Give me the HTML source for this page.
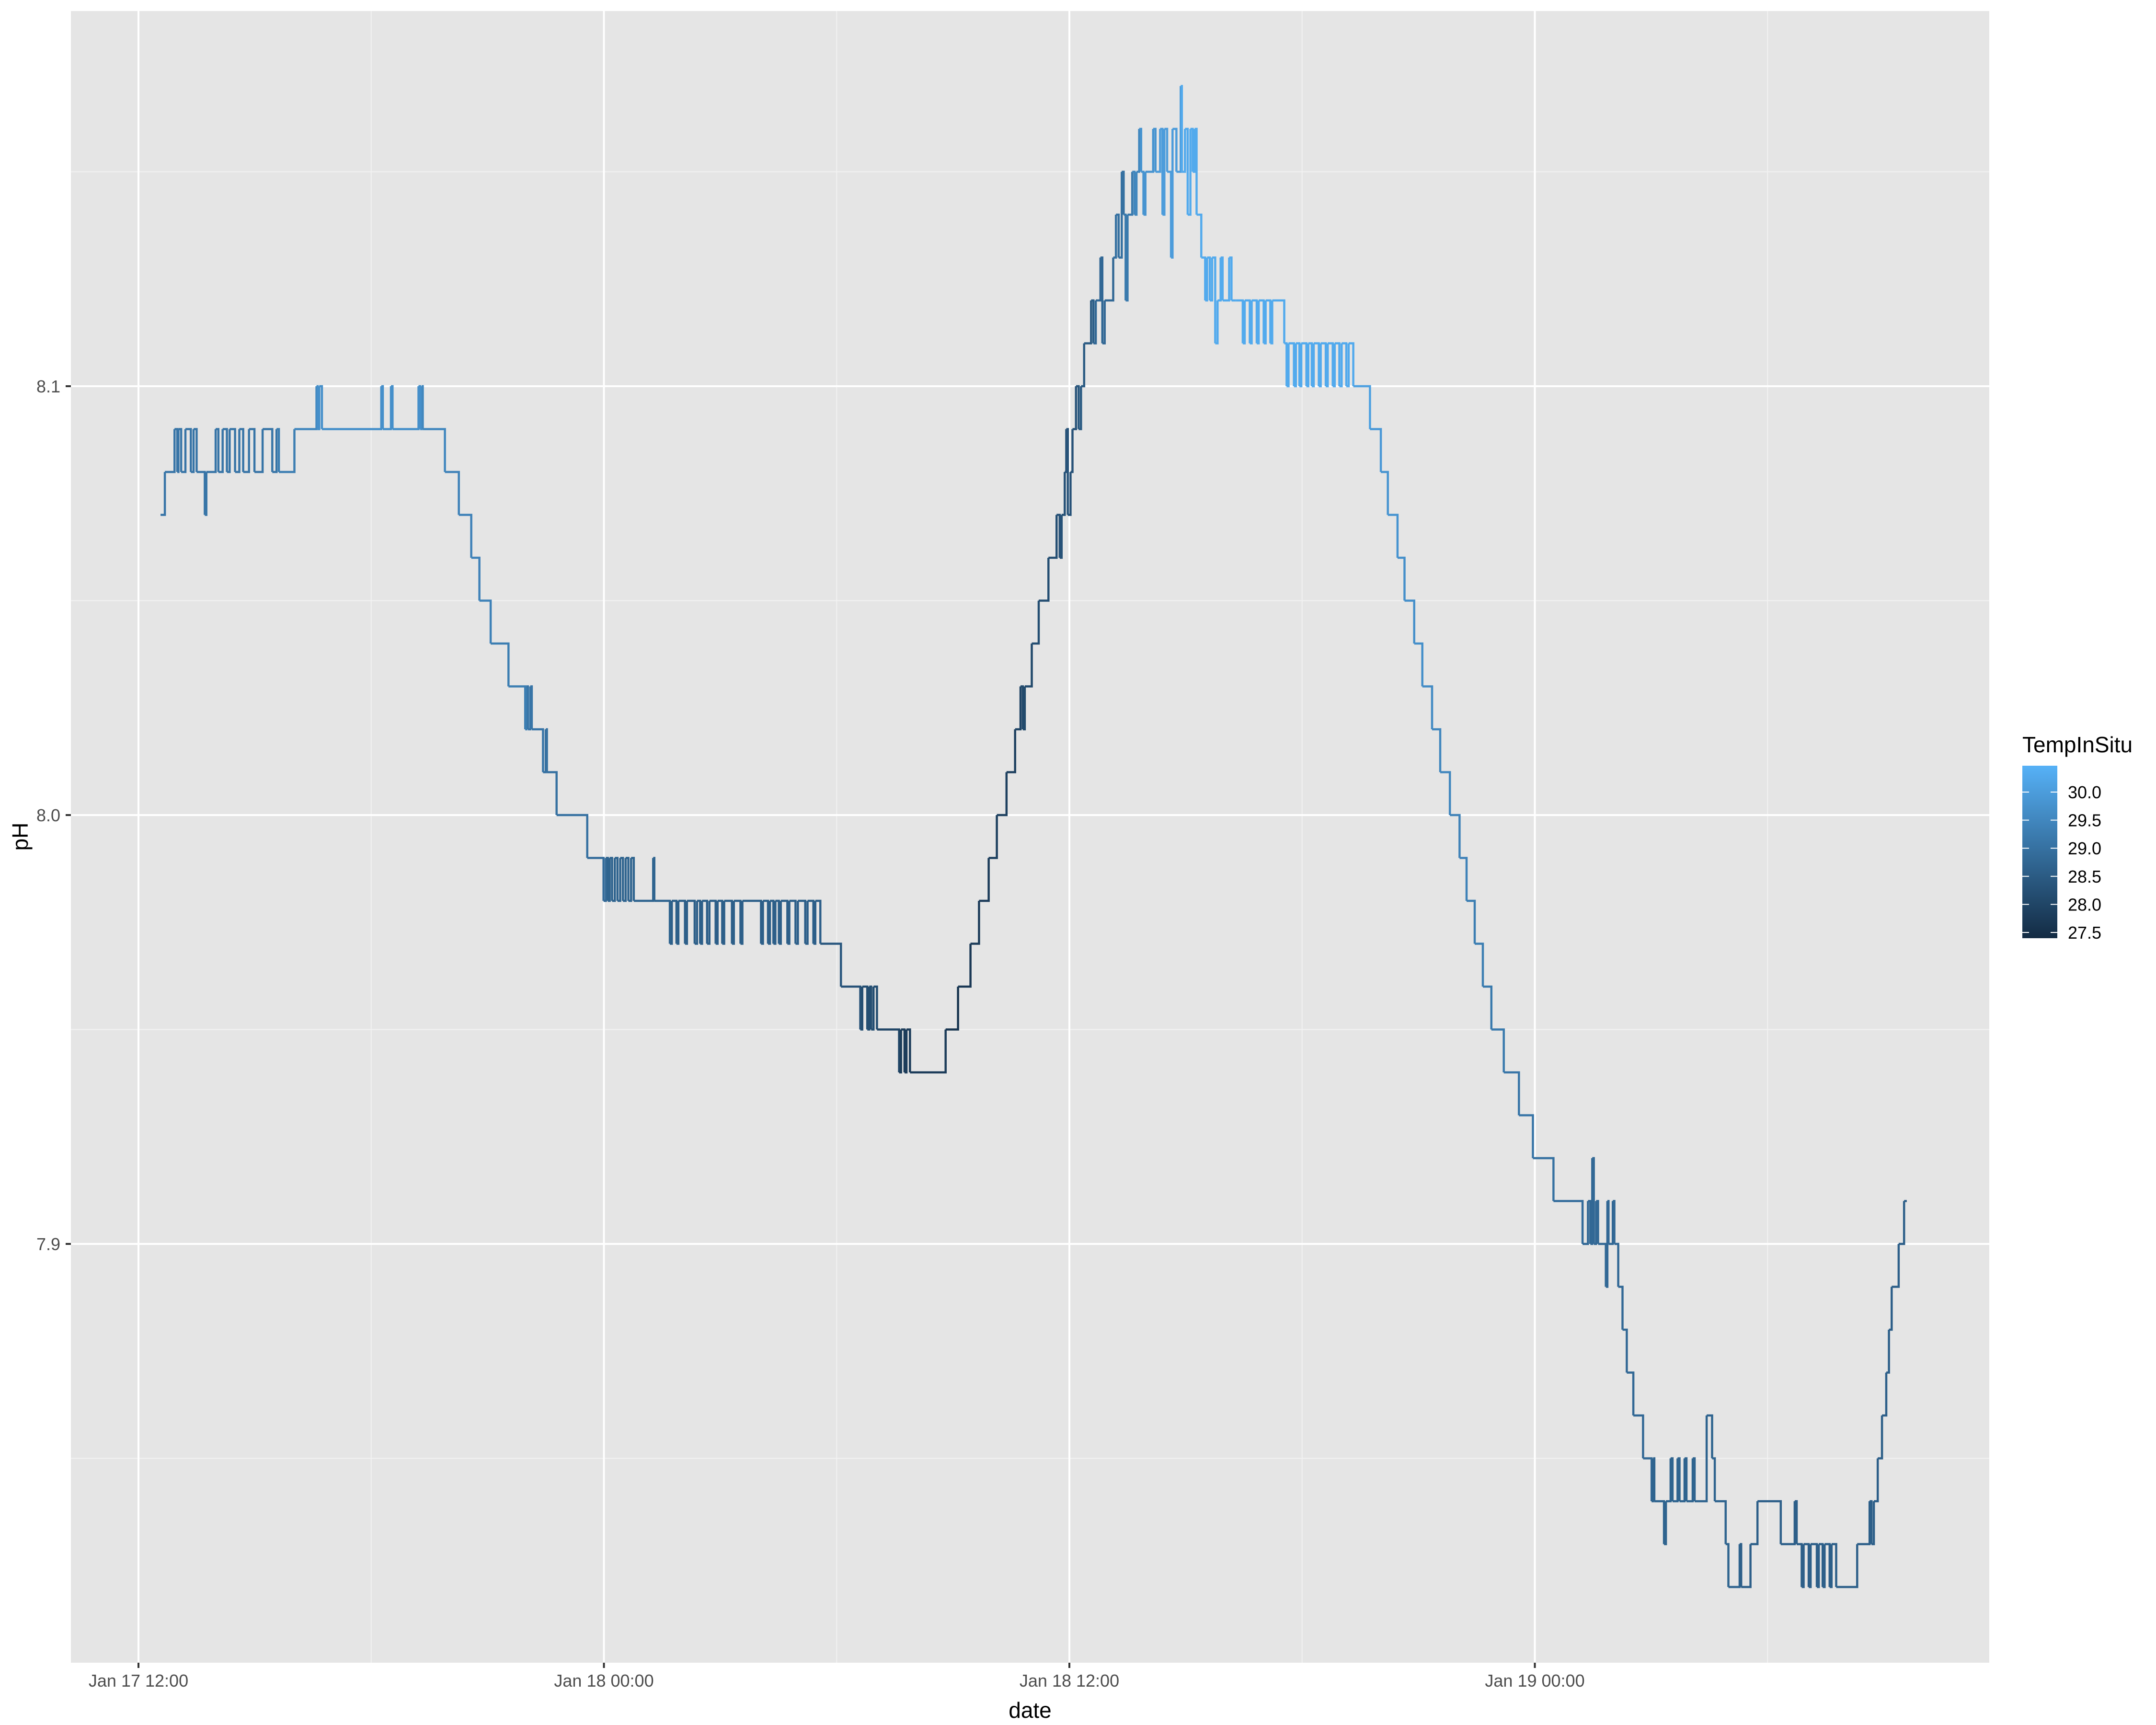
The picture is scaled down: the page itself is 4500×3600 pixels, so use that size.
<!DOCTYPE html>
<html><head><meta charset="utf-8"><style>
html,body{margin:0;padding:0;background:#fff;}
svg{display:block;font-family:"Liberation Sans",Arial,sans-serif;}
</style></head><body>
<svg id="chart" width="4500" height="3600" viewBox="0 0 4500 3600" xmlns="http://www.w3.org/2000/svg">
<rect x="0" y="0" width="4500" height="3600" fill="#ffffff"/>
<rect x="148" y="23" width="4004" height="3447" fill="#e5e5e5"/>
<g id="grid"></g>
<g id="series"></g>
<g id="axes"></g>
<text x="2150" y="3585" font-size="46" text-anchor="middle" fill="#000">date</text>
<text x="0" y="0" font-size="46" text-anchor="middle" fill="#000" transform="translate(58,1746) rotate(-90)">pH</text>
<g>
<text x="4221" y="1570" font-size="46" fill="#000">TempInSitu</text>
<defs><linearGradient id="lg" x1="0" y1="1" x2="0" y2="0"><stop offset="0" stop-color="#132B43"/><stop offset="1" stop-color="#56B1F7"/></linearGradient></defs>
<rect x="4221" y="1598" width="73" height="360" fill="url(#lg)"/>
<g id="legendTicks"></g>
</g>
</svg>
<script>
// Data: time in hours since Jan 17 00:00
const times = [12.57,12.68,12.93,13.00,13.03,13.10,13.21,13.35,13.42,13.50,13.71,13.75,13.99,14.06,14.17,14.28,14.35,14.49,14.60,14.70,14.85,14.99,15.20,15.45,15.56,15.62,16.02,16.59,16.62,16.66,16.73,18.26,18.30,18.51,18.55,19.22,19.26,19.30,19.33,19.90,20.26,20.58,20.79,21.08,21.54,21.97,22.00,22.04,22.10,22.14,22.43,22.50,22.53,22.78,23.57,23.99,24.05,24.10,24.15,24.21,24.28,24.35,24.42,24.49,24.56,24.63,24.70,24.77,25.27,25.30,25.70,25.75,25.87,25.92,26.09,26.14,26.34,26.40,26.48,26.53,26.66,26.72,26.88,26.93,27.05,27.10,27.30,27.35,27.52,27.57,28.05,28.10,28.23,28.28,28.37,28.42,28.51,28.56,28.73,28.78,28.94,29.00,29.19,29.25,29.40,29.45,29.58,30.11,30.61,30.66,30.79,30.84,30.89,30.95,31.04,31.61,31.66,31.75,31.80,31.89,32.81,33.13,33.45,33.67,33.92,34.13,34.38,34.60,34.74,34.80,34.85,35.03,35.21,35.46,35.67,35.75,35.80,35.88,35.92,35.96,36.03,36.08,36.17,36.24,36.30,36.38,36.56,36.62,36.68,36.73,36.80,36.85,36.91,37.13,37.20,37.27,37.35,37.40,37.45,37.50,37.62,37.68,37.73,37.80,37.85,37.91,37.96,38.16,38.22,38.34,38.40,38.45,38.52,38.62,38.66,38.76,38.87,38.90,38.98,39.05,39.12,39.18,39.23,39.28,39.33,39.40,39.50,39.55,39.62,39.68,39.76,39.82,39.90,39.95,40.12,40.18,40.29,40.47,40.52,40.65,40.70,40.83,40.88,41.01,41.06,41.18,41.23,41.54,41.60,41.65,41.79,41.84,41.93,41.98,42.11,42.16,42.25,42.30,42.43,42.48,42.61,42.66,42.79,42.84,42.96,43.02,43.14,43.20,43.32,43.75,44.03,44.21,44.46,44.64,44.89,45.10,45.35,45.56,45.81,46.06,46.24,46.45,46.66,46.88,47.20,47.59,47.95,48.48,49.23,49.37,49.43,49.48,49.52,49.58,49.63,49.83,49.87,49.90,50.01,50.05,50.15,50.26,50.37,50.54,50.79,51.01,51.05,51.08,51.33,51.38,51.50,51.55,51.68,51.73,51.86,51.91,52.07,52.12,52.43,52.57,52.64,52.92,52.99,53.28,53.32,53.56,53.74,54.34,54.70,54.75,54.88,54.93,55.06,55.11,55.27,55.32,55.42,55.47,55.60,55.65,55.77,56.31,56.63,56.68,56.74,56.84,56.95,57.06,57.13,57.20,57.38,57.52,57.59];
const phValues = [8.07,8.08,8.09,8.08,8.09,8.08,8.09,8.08,8.09,8.08,8.07,8.08,8.09,8.08,8.09,8.08,8.09,8.08,8.09,8.08,8.09,8.08,8.09,8.08,8.09,8.08,8.09,8.10,8.09,8.10,8.09,8.10,8.09,8.10,8.09,8.10,8.09,8.10,8.09,8.08,8.07,8.06,8.05,8.04,8.03,8.02,8.03,8.02,8.03,8.02,8.01,8.02,8.01,8.00,7.99,7.98,7.99,7.98,7.99,7.98,7.99,7.98,7.99,7.98,7.99,7.98,7.99,7.98,7.99,7.98,7.97,7.98,7.97,7.98,7.97,7.98,7.97,7.98,7.97,7.98,7.97,7.98,7.97,7.98,7.97,7.98,7.97,7.98,7.97,7.98,7.97,7.98,7.97,7.98,7.97,7.98,7.97,7.98,7.97,7.98,7.97,7.98,7.97,7.98,7.97,7.98,7.97,7.96,7.95,7.96,7.95,7.96,7.95,7.96,7.95,7.94,7.95,7.94,7.95,7.94,7.95,7.96,7.97,7.98,7.99,8.00,8.01,8.02,8.03,8.02,8.03,8.04,8.05,8.06,8.07,8.06,8.07,8.08,8.09,8.07,8.08,8.09,8.10,8.09,8.10,8.11,8.12,8.11,8.12,8.12,8.13,8.11,8.12,8.13,8.14,8.13,8.15,8.14,8.12,8.14,8.15,8.14,8.15,8.16,8.15,8.14,8.15,8.16,8.15,8.16,8.14,8.16,8.15,8.13,8.16,8.15,8.17,8.15,8.16,8.14,8.16,8.15,8.16,8.14,8.14,8.13,8.12,8.13,8.12,8.13,8.11,8.12,8.13,8.12,8.13,8.12,8.12,8.11,8.12,8.11,8.12,8.11,8.12,8.11,8.12,8.11,8.12,8.11,8.10,8.11,8.10,8.11,8.10,8.11,8.10,8.11,8.10,8.11,8.10,8.11,8.10,8.11,8.10,8.11,8.10,8.11,8.10,8.11,8.10,8.09,8.08,8.07,8.06,8.05,8.04,8.03,8.02,8.01,8.00,7.99,7.98,7.97,7.96,7.95,7.94,7.93,7.92,7.91,7.90,7.91,7.90,7.92,7.90,7.91,7.90,7.89,7.91,7.90,7.91,7.90,7.89,7.88,7.87,7.86,7.85,7.84,7.85,7.84,7.83,7.84,7.85,7.84,7.85,7.84,7.85,7.84,7.85,7.84,7.86,7.85,7.84,7.83,7.82,7.83,7.82,7.83,7.84,7.83,7.84,7.83,7.82,7.83,7.82,7.83,7.82,7.83,7.82,7.83,7.82,7.83,7.82,7.83,7.84,7.83,7.84,7.85,7.86,7.87,7.88,7.89,7.90,7.91,7.91];
const tempTimes = [12.5,15.5,16.0,16.5,19.3,19.9,20.8,22.0,22.4,22.8,23.6,24.0,25.7,29.5,30.1,30.6,31.0,31.6,31.9,33.1,33.4,33.9,34.4,34.7,35.0,35.5,36.1,36.2,36.4,36.6,37.1,37.4,37.6,37.8,38.2,38.8,43.3,43.7,44.0,44.4,44.9,45.3,45.8,46.2,46.6,47.2,47.9,48.4,49.2,50.8,53.0];
const tempValues = [29.1,29.3,29.5,29.7,29.5,29.4,29.3,29.1,29.0,28.9,28.8,28.7,28.6,28.4,28.3,28.2,28.0,27.8,27.6,27.7,27.8,27.9,28.0,28.1,28.2,28.3,28.4,28.5,28.6,28.8,29.0,29.2,29.5,29.8,30.0,30.3,30.1,29.9,29.8,29.7,29.6,29.5,29.4,29.3,29.2,29.1,29.0,28.9,28.8,28.7,28.6];
const yTicks = [7.9, 8.0, 8.1];
const yTickLabels = ["7.9", "8.0", "8.1"];
const xTicks = [12, 24, 36, 48];
const xTickLabels = ["Jan 17 12:00", "Jan 18 00:00", "Jan 18 12:00", "Jan 19 00:00"];
const legendTicks = [27.5, 28.0, 28.5, 29.0, 29.5, 30.0];
const legendLabels = ["27.5", "28.0", "28.5", "29.0", "29.5", "30.0"];

const NS = "http://www.w3.org/2000/svg";
const PL = 148, PR = 4152, PT = 23, PB = 3470;
const xScale = h => 289 + (h - 12) * (971.5 / 12);
const yScale = p => 806 + (8.1 - p) * 8950;
const tMin = 27.40, tMax = 30.47;
const lowC = [0x13, 0x2B, 0x43], highC = [0x56, 0xB1, 0xF7];
function tempColor(t) {
  let f = (t - tMin) / (tMax - tMin); f = Math.max(0, Math.min(1, f));
  const c = lowC.map((v, i) => Math.round(v + (highC[i] - v) * f));
  return "rgb(" + c.join(",") + ")";
}
function tempAt(h) {
  let v = tempValues[0];
  for (let i = 0; i < tempTimes.length; i++) { if (tempTimes[i] <= h) v = tempValues[i]; }
  return v;
}
function mk(tag, attrs, parent) {
  const e = document.createElementNS(NS, tag);
  for (const k in attrs) e.setAttribute(k, attrs[k]);
  parent.appendChild(e); return e;
}
const grid = document.getElementById("grid");
// minor horizontal
[7.85, 7.95, 8.05, 8.15].forEach(v => {
  const l = mk("line", {x1: PL, x2: PR, y1: yScale(v), y2: yScale(v), stroke: "#f2f2f2", "stroke-width": 2}, grid);
  
  
});
[18, 30, 42, 54].forEach(v => {
  const l = mk("line", {y1: PT, y2: PB, x1: xScale(v), x2: xScale(v), stroke: "#f2f2f2", "stroke-width": 2}, grid);
  
  
});
yTicks.forEach(v => {
  const l = mk("line", {x1: PL, x2: PR, y1: yScale(v), y2: yScale(v), stroke: "#ffffff", "stroke-width": 4}, grid);
  
  
});
xTicks.forEach(v => {
  const l = mk("line", {y1: PT, y2: PB, x1: xScale(v), x2: xScale(v), stroke: "#ffffff", "stroke-width": 4}, grid);
  
  
});
// series
const series = document.getElementById("series");
for (let i = 0; i < times.length - 1; i++) {
  const x0 = xScale(times[i]), x1 = xScale(times[i + 1]);
  const y0 = yScale(phValues[i]), y1 = yScale(phValues[i + 1]);
  const p = mk("path", {d: "M" + x0.toFixed(1) + "," + y0.toFixed(1) + "L" + x1.toFixed(1) + "," + y0.toFixed(1) + "L" + x1.toFixed(1) + "," + y1.toFixed(1),
    fill: "none", stroke: tempColor(tempAt(times[i])), "stroke-width": 4.5, "stroke-linejoin": "miter"}, series);
  
  
}
// axes
const axes = document.getElementById("axes");
yTicks.forEach((v, i) => {
  const t = mk("line", {x1: PL - 11, x2: PL, y1: yScale(v), y2: yScale(v), stroke: "#333333", "stroke-width": 4}, axes);
  
  
  const tx = mk("text", {x: PL - 22, y: yScale(v) + 13, "font-size": 36, "text-anchor": "end", fill: "#4d4d4d"}, axes);
  tx.textContent = yTickLabels[i];
  
  
});
xTicks.forEach((v, i) => {
  const t = mk("line", {x1: xScale(v), x2: xScale(v), y1: PB, y2: PB + 11, stroke: "#333333", "stroke-width": 4}, axes);
  
  
  const tx = mk("text", {x: xScale(v), y: PB + 50, "font-size": 36, "text-anchor": "middle", fill: "#4d4d4d"}, axes);
  tx.textContent = xTickLabels[i];
  
  
});
// legend
const lt = document.getElementById("legendTicks");
const legY = t => 1653 + (30.0 - t) * (293 / 2.5);
legendTicks.forEach((v, i) => {
  const y = legY(v);
  const a = mk("line", {x1: 4221, x2: 4235, y1: y, y2: y, stroke: "#ffffff", "stroke-width": 2}, lt);
  
  
  const b = mk("line", {x1: 4280, x2: 4294, y1: y, y2: y, stroke: "#ffffff", "stroke-width": 2}, lt);
  
  
  const tx = mk("text", {x: 4316, y: y + 13, "font-size": 36, fill: "#000"}, lt);
  tx.textContent = legendLabels[i];
  
  
});
</script>
</body></html>
